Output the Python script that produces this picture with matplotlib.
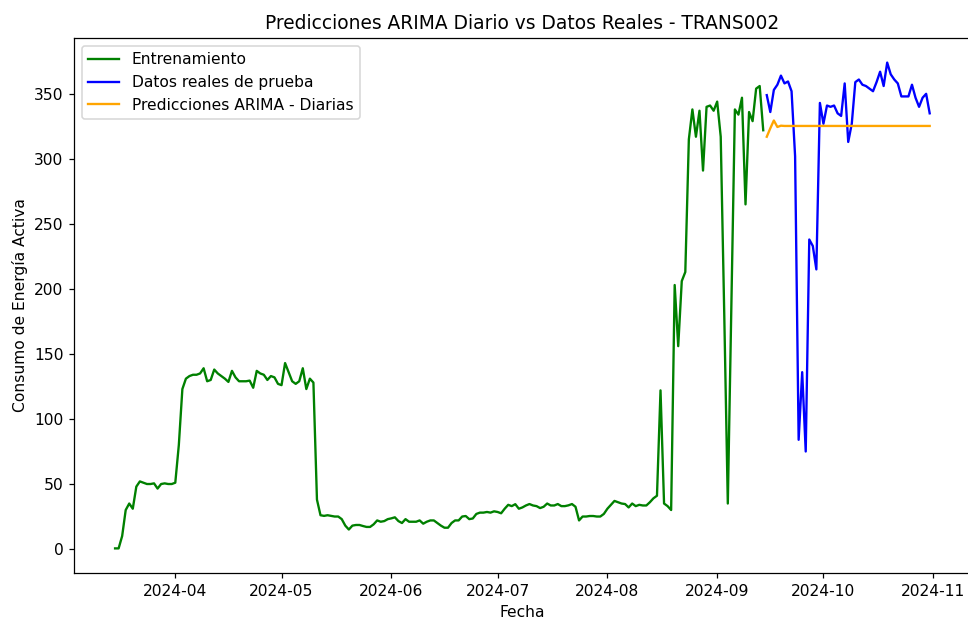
import pandas as pd
import matplotlib
matplotlib.use("Agg")
import matplotlib.pyplot as plt

# Datos (consumo diario)
train_start = "2024-03-15"
train_values = [
    0.5, 0.5, 10, 30, 35, 31, 48, 52, 51, 50,
    50, 50.5, 46.5, 50, 50.5, 50, 50, 51, 80, 123,
    131, 133, 134, 134, 135, 139, 129, 130, 138, 135,
    133, 131, 128.5, 137, 132, 129, 129, 129, 129.5, 124,
    137, 135, 134, 130, 133, 132, 127, 126, 143, 136,
    129, 127, 129, 139, 123, 131, 128, 38, 26, 25.5,
    26, 25.5, 25, 25, 23, 18, 15, 18, 18.5, 18.5,
    17.7, 17, 17, 19, 22, 21, 21.5, 23, 23.6, 24.4,
    21.5, 20, 23, 21, 21, 21, 22, 19.5, 21, 22,
    22, 20, 18, 16.4, 16.4, 20, 22, 22, 25, 25.4,
    23, 23.5, 27, 28, 28, 28.5, 28, 29, 28.5, 27.5,
    31, 34, 33, 34.5, 31, 32, 33.5, 34.6, 33.5, 33,
    31.5, 32.5, 35, 33.5, 33.5, 34.6, 33, 33, 33.6, 34.6,
    32.5, 22, 25, 25, 25.4, 25.4, 25, 25, 27, 31,
    34, 37, 36, 35, 34.6, 32, 35, 33, 34, 33.5,
    33.5, 36, 39, 41, 122, 35, 33, 30, 203, 156,
    206, 213, 315, 338, 317, 337, 291, 340, 341, 337,
    344, 317, 180, 35, 185, 338, 334, 347, 265, 336,
    329, 354, 356, 322,
]

test_start = "2024-09-15"
test_values = [
    349, 336, 353, 357, 364, 358, 359.5, 352, 302, 84,
    136, 75, 238, 233, 215, 343, 327, 341, 340, 341,
    335, 333, 358, 313, 327, 359, 361, 357, 356, 354,
    352, 359, 367, 356, 374, 365, 361, 358, 348, 348,
    348, 357, 347, 340, 347, 350, 335,
]

arima_values = [317, 323.5, 329.5, 324.5, 325.5] + [325.3] * 42

train_dates = pd.date_range(train_start, periods=len(train_values), freq="D")
test_dates = pd.date_range(test_start, periods=len(test_values), freq="D")

fig = plt.figure(figsize=(968 / 112, 621 / 112), dpi=112)
# el eje se sale un poco por la derecha, como en la captura original
ax = fig.add_axes([0.0768, 0.0778, 0.9257, 0.8605])

ax.plot(train_dates, train_values, color="green", label="Entrenamiento")
ax.plot(test_dates, test_values, color="blue", label="Datos reales de prueba")
ax.plot(test_dates, arima_values, color="orange", label="Predicciones ARIMA - Diarias")

ax.set_title("Predicciones ARIMA Diario vs Datos Reales - TRANS002")
ax.set_xlabel("Fecha")
ax.set_ylabel("Consumo de Energía Activa")
ax.legend(loc="upper left")

fig.savefig("out.png", dpi=112)
